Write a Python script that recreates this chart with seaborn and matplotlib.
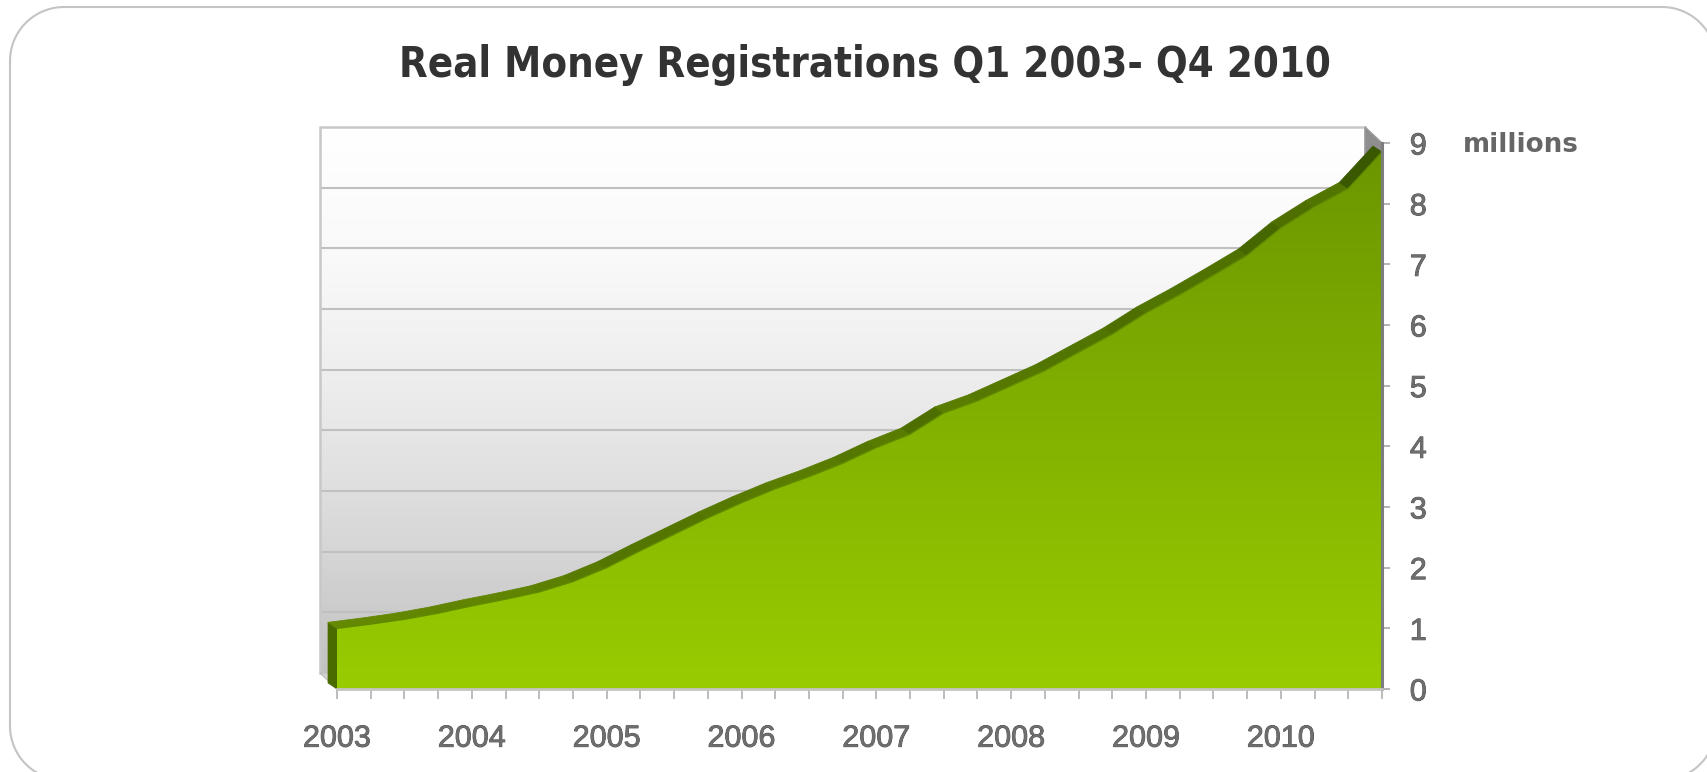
import numpy as np
import matplotlib
matplotlib.use("Agg")
import matplotlib.pyplot as plt
import matplotlib.patheffects as pe
import seaborn as sns
from matplotlib.colors import LinearSegmentedColormap, to_rgb
from matplotlib.collections import PolyCollection
from matplotlib.patches import Polygon, Rectangle
from matplotlib.transforms import IdentityTransform

# ---- data -------------------------------------------------------------
years = [2003, 2004, 2005, 2006, 2007, 2008, 2009, 2010]
quarters = ["Q1", "Q2", "Q3", "Q4"]
# cumulative real money registrations at each quarter (millions)
registrations = [
    1.00, 1.07, 1.15, 1.25,   # 2003
    1.37, 1.48, 1.60, 1.77,   # 2004
    2.00, 2.28, 2.55, 2.82,   # 2005
    3.07, 3.30, 3.50, 3.72,   # 2006
    3.98, 4.20, 4.55, 4.75,   # 2007
    5.00, 5.25, 5.55, 5.85,   # 2008
    6.20, 6.50, 6.82, 7.15,   # 2009
    7.60, 7.95, 8.25, 8.85,   # 2010
]
value_ticks = [0, 1, 2, 3, 4, 5, 6, 7, 8, 9]
title = "Real Money Registrations Q1 2003- Q4 2010"
unit_label = "millions"

# ---- style ------------------------------------------------------------
sns.set_theme(style="white")
plt.rcParams["font.family"] = ["Liberation Sans", "DejaVu Sans"]

W, H = 1707, 772
fig = plt.figure(figsize=(W / 100, H / 100), dpi=100)
fig.patch.set_facecolor("white")

# rounded frame around the slide, built in pixel coordinates (y up)
fl, fr, fb, ft, rad = 10.0, 1716.0, -8.0, 765.0, 54.0
corners = [(fr - rad, ft - rad, 0.0), (fl + rad, ft - rad, 0.5 * np.pi),
           (fl + rad, fb + rad, np.pi), (fr - rad, fb + rad, 1.5 * np.pi)]
pts = []
for cx, cy, a0 in corners:
    th = np.linspace(a0, a0 + 0.5 * np.pi, 24)
    pts.extend(zip(cx + rad * np.cos(th), cy + rad * np.sin(th)))
frame = Polygon(pts, closed=True, fill=False, ec="#c4c4c4", lw=1.5,
                transform=IdentityTransform())
fig.patches.append(frame)

# front plane of the 3-D box, in pixels
left_px, right_px, top_px, bottom_px = 337, 1382, 143, 689
ax = fig.add_axes([left_px / W, 1 - bottom_px / H,
                   (right_px - left_px) / W, (bottom_px - top_px) / H])
ax.set_facecolor("none")

n = len(registrations)
x = np.arange(n)
vals = np.array(registrations)
x_max = n - 1
y_max = value_ticks[-1]

# data units per pixel, used for the depth of the pseudo-3-D box
ux = x_max / (right_px - left_px)
uy = y_max / (bottom_px - top_px)
wall_dx, wall_dy = -17 * ux, 16 * uy
area_dx, area_dy = -9 * ux, 6 * uy

grad = np.linspace(0, 1, 256)[:, None]

# back wall with vertical grey gradient
wall_cmap = LinearSegmentedColormap.from_list(
    "wall", ["#c2c2c2", "#d8d8d8", "#ebebeb", "#f9f9f9", "#ffffff"])
ax.imshow(grad, extent=(wall_dx, x_max + wall_dx, wall_dy, y_max + wall_dy),
          origin="lower", aspect="auto", cmap=wall_cmap, zorder=0,
          clip_on=False, interpolation="bilinear")
ax.hlines(np.array(value_ticks[1:-1]) + wall_dy, wall_dx, x_max + wall_dx,
          colors="#c0c0c0", linewidth=1.5, zorder=0.5, clip_on=False)
ax.add_patch(Rectangle((wall_dx, wall_dy), x_max, y_max, fill=False,
                       ec="#c8c8c8", lw=1.8, zorder=0.6, clip_on=False))

# floor and right side wall
ax.add_patch(Polygon([(0, 0), (x_max, 0), (x_max + wall_dx, wall_dy),
                      (wall_dx, wall_dy)], closed=True, fc="#d2d2d2",
                     ec="#c0c0c0", lw=1, zorder=1, clip_on=False))
ax.add_patch(Polygon([(x_max, 0), (x_max, y_max),
                      (x_max + wall_dx, y_max + wall_dy),
                      (x_max + wall_dx, wall_dy)], closed=True, fc="#8e8e8e",
                     ec="#9a9a9a", lw=1, zorder=1, clip_on=False))

# left side face of the area
ax.add_patch(Polygon([(0, 0), (0, vals[0]), (area_dx, vals[0] + area_dy),
                      (area_dx, area_dy)], closed=True, fc="#4a6b00",
                     ec="#4a6b00", lw=0.5, zorder=3, clip_on=False))

# top surface ribbon, shaded by slope
light, dark = np.array(to_rgb("#6a8f00")), np.array(to_rgb("#3a5800"))
polys, cols = [], []
for i in range(n - 1):
    polys.append([(x[i], vals[i]), (x[i + 1], vals[i + 1]),
                  (x[i + 1] + area_dx, vals[i + 1] + area_dy),
                  (x[i] + area_dx, vals[i] + area_dy)])
    t = np.clip((vals[i + 1] - vals[i]) / 0.6, 0, 1)
    cols.append(tuple((1 - t) * light + t * dark))
ribbon = PolyCollection(polys, facecolors=cols, edgecolors=cols,
                        linewidths=0.6, zorder=3, clip_on=False)
ax.add_collection(ribbon)

# front face with green gradient
face = ax.fill_between(x, 0, vals, color="none", lw=0, zorder=4)
green_cmap = LinearSegmentedColormap.from_list("green", ["#99cc00", "#6b9500"])
img = ax.imshow(grad, extent=(0, x_max, 0, y_max), origin="lower",
                aspect="auto", cmap=green_cmap, zorder=4,
                interpolation="bilinear")
img.set_clip_path(face.get_paths()[0], ax.transData)

sns.lineplot(x=x, y=vals, ax=ax, color="#5f8a00", linewidth=1.0, zorder=5)

ax.set_xlim(0, x_max)
ax.set_ylim(0, y_max)
ax.set_xlabel("")
ax.set_ylabel("")
ax.grid(False)

# axes
ax.set_xticks(x)
ax.set_xticklabels([str(years[i // 4]) if i % 4 == 0 else "" for i in x])
ax.yaxis.tick_right()
ax.set_yticks(value_ticks)
ax.set_yticklabels([str(v) for v in value_ticks])
ax.tick_params(axis="x", bottom=True, direction="out", length=7, width=1.2,
               color="#b0b0b0", labelcolor="#6e6e6e", labelsize=22, pad=18)
ax.tick_params(axis="y", right=True, left=False, direction="out", length=6,
               width=1.2, color="#a8a8a8", labelcolor="#6e6e6e",
               labelsize=22, pad=14)
emboss = [pe.withStroke(linewidth=0.6, foreground="#4a4a4a")]
for lab in ax.get_xticklabels() + ax.get_yticklabels():
    lab.set_path_effects(emboss)

for side in ("top", "left"):
    ax.spines[side].set_visible(False)
ax.spines["right"].set_color("#7d7d7d")
ax.spines["right"].set_linewidth(2.2)
ax.spines["right"].set_zorder(6)
ax.spines["bottom"].set_color("#c4c4c4")
ax.spines["bottom"].set_linewidth(2.0)
ax.spines["bottom"].set_zorder(6)

# texts
fig.text(865 / W, 1 - 77 / H, title, ha="center", va="baseline",
         fontsize=30, fontweight="bold", fontstretch="condensed",
         color="#333333", family=["DejaVu Sans"])
fig.text(1463 / W, 1 - 152 / H, unit_label, ha="left", va="baseline",
         fontsize=18.8, fontweight="bold", color="#666666",
         family=["DejaVu Sans"])

fig.savefig("out.png", dpi=100)
